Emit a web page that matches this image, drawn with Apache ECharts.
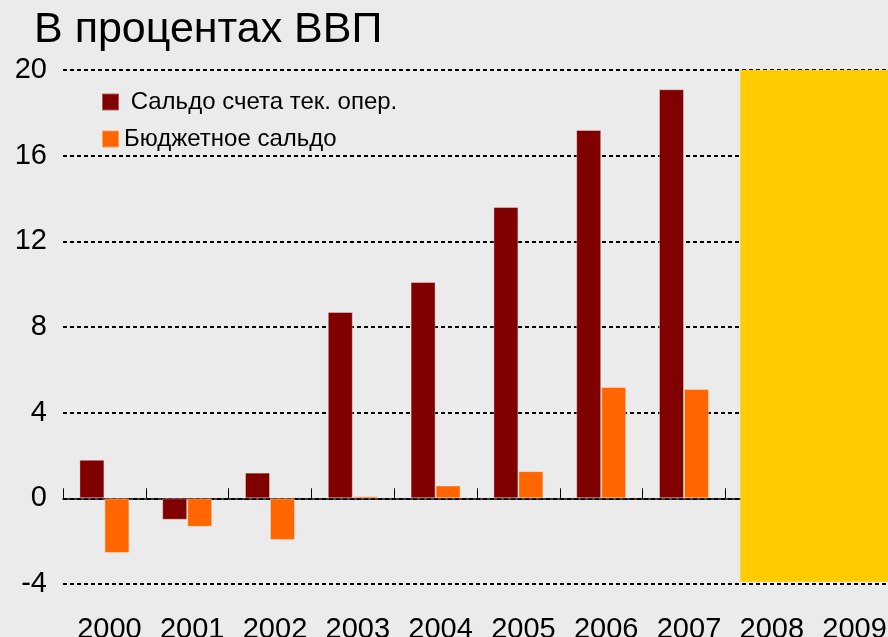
<!DOCTYPE html>
<html>
<head>
<meta charset="utf-8">
<script src="https://cdn.jsdelivr.net/npm/echarts@6/dist/echarts.min.js"></script>
<style>
  html, body { margin: 0; padding: 0; background: #ebebeb; }
  #chart { width: 888px; height: 637px; }
</style>
</head>
<body>
<div id="chart"></div>
<script>
// data
const years = ['2000', '2001', '2002', '2003', '2004', '2005', '2006', '2007', '2008', '2009']
const currentAccount = [1.8, -1.0, 1.2, 8.7, 10.1, 13.6, 17.2, 19.1, null, null]
const budgetBalance = [-2.55, -1.33, -1.94, 0.1, 0.6, 1.27, 5.2, 5.1, null, null]
const seriesNames = ['Сальдо счета тек. опер.', 'Бюджетное сальдо']
const yTicks = { min: -4, max: 20, step: 4 }
// forecast band (yellow), in category units along x and % along y
const forecastX = [8.18, 10]
const forecastY = [20, -3.9]

const chart = echarts.init(document.getElementById('chart'))

const font = 'Liberation Sans, Arial, sans-serif'

const option = {
  backgroundColor: '#ebebeb',
  animation: false,
  textStyle: { fontFamily: font },
  title: {
    text: 'В процентах ВВП',
    left: 34,
    top: 9,
    padding: 0,
    textStyle: { fontFamily: font, fontSize: 43, fontWeight: 'normal', color: '#000' }
  },
  legend: {
    data: seriesNames,
    orient: 'vertical',
    left: 101,
    top: 90,
    padding: 0,
    icon: 'rect',
    itemWidth: 17,
    itemHeight: 17,
    itemGap: 13,
    itemTextGap: 2,
    formatter: function (name) {
      return name === seriesNames[0] ? ' ' + name : name
    },
    textStyle: { fontFamily: font, fontSize: 24, color: '#000' }
  },
  grid: {
    left: 63,
    top: 70,
    bottom: 53,
    width: 828,
    outerBoundsMode: 'none'
  },
  xAxis: [{
    // labels along the bottom
    type: 'category',
    data: years,
    position: 'bottom',
    axisLine: { show: false, onZero: false },
    axisTick: { show: false },
    axisLabel: {
      interval: 0,
      margin: 37,
      fontSize: 29,
      lineHeight: 18,
      color: '#000',
      fontFamily: font,
      padding: [0, 0, 0, 10]
    },
    splitLine: { show: false }
  }, {
    // the zero line with its ticks
    type: 'category',
    data: years,
    position: 'top',
    axisLine: { onZero: true, lineStyle: { color: '#000', width: 1.5 } },
    axisTick: { show: true, inside: false, length: 10, lineStyle: { color: '#000', width: 1 } },
    axisLabel: { show: false },
    splitLine: { show: false }
  }, {
    type: 'value',
    min: 0,
    max: 10,
    show: false
  }],
  yAxis: {
    type: 'value',
    min: yTicks.min,
    max: yTicks.max,
    interval: yTicks.step,
    axisLine: { show: false },
    axisTick: { show: false },
    axisLabel: { margin: 16, fontSize: 29, color: '#000', fontFamily: font },
    splitLine: {
      lineStyle: { color: '#000', width: 2, type: [4, 3] }
    }
  },
  series: [{
    name: seriesNames[0],
    type: 'bar',
    data: currentAccount,
    barWidth: 25,
    barGap: '0%',
    itemStyle: { color: '#800000', borderColor: 'rgba(255,255,255,0.35)', borderWidth: 1 }
  }, {
    name: seriesNames[1],
    type: 'bar',
    data: budgetBalance,
    barWidth: 25,
    barGap: '0%',
    itemStyle: { color: '#ff6600', borderColor: 'rgba(255,255,255,0.35)', borderWidth: 1 }
  }, {
    name: 'forecast',
    type: 'line',
    xAxisIndex: 2,
    data: [],
    silent: true,
    markArea: {
      silent: true,
      itemStyle: { color: '#ffcc00' },
      data: [[
        { xAxis: forecastX[0], yAxis: forecastY[0] },
        { xAxis: forecastX[1], yAxis: forecastY[1] }
      ]]
    }
  }]
}

chart.setOption(option)
</script>
</body>
</html>
